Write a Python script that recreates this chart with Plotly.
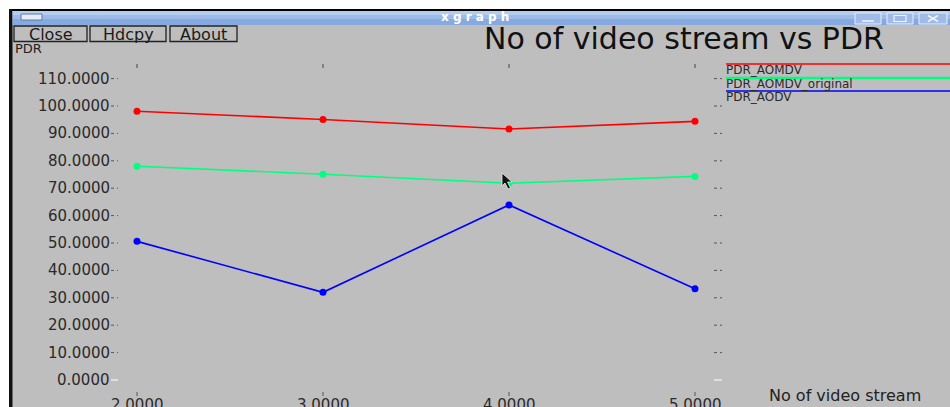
import plotly.graph_objects as go

# ---- data ----
x_streams = [2, 3, 4, 5]
pdr_aomdv = [98.1, 95.1, 91.6, 94.4]
pdr_aomdv_original = [78.0, 75.1, 71.8, 74.3]
pdr_aodv = [50.6, 32.0, 63.9, 33.3]

series_names = ["PDR_AOMDV", "PDR_AOMDV_original", "PDR_AODV"]
series_colors = ["#ff0000", "#00ff80", "#0000ff"]

y_ticks = [0, 10, 20, 30, 40, 50, 60, 70, 80, 90, 100, 110]
y_tick_labels = ["%.4f" % v for v in y_ticks]
x_ticks = [2, 3, 4, 5]
x_tick_labels = ["%.4f" % v for v in x_ticks]

title_text = "No of video stream vs PDR"
x_title = "No of video stream"
y_title = "PDR"
window_title = "xgraph"
buttons = ["Close", "Hdcpy", "About"]

W, H = 950, 407
BG = "#bebebe"
FONT = "DejaVu Sans"


def X(p):
    return p / W


def Y(p):
    return 1 - p / H


# axis ranges chosen so that the plot frame lines up with the screenshot
x_range = [2 - 137 / 186, 2 + (W - 137) / 186]
y_range = [(380 - H) / 2.74, 380 / 2.74]

fig = go.Figure()
for name, vals, col in zip(series_names,
                           [pdr_aomdv, pdr_aomdv_original, pdr_aodv],
                           series_colors):
    fig.add_trace(go.Scatter(
        x=x_streams, y=vals, mode="lines+markers", name=name,
        line=dict(color=col, width=1.6),
        marker=dict(color=col, size=7, symbol="circle"),
        hoverinfo="skip", showlegend=False))

shapes = []
annotations = []


def rect(x0, x1, y0, y1, fill, line=None, layer="below"):
    d = dict(type="rect", xref="paper", yref="paper", x0=X(x0), x1=X(x1), y0=Y(y0), y1=Y(y1),
             fillcolor=fill, layer=layer)
    if line is None:
        d["line_width"] = 0
    else:
        d["line"] = line
    shapes.append(d)


def seg(x0, y0, x1, y1, color, width=1):
    shapes.append(dict(type="line", xref="paper", yref="paper", x0=X(x0), x1=X(x1), y0=Y(y0), y1=Y(y1),
                       line=dict(color=color, width=width)))


# top white strip + black window border
rect(0, W, 0, 9, "white")
rect(0, 9, 0, H, "white")
rect(9, W, 9, 11, "black")
rect(9, 12.5, 9, H, "#111111")
# title bar gradient (bands)
rect(12.5, W, 11, 15, "#b3ccef")
rect(12.5, W, 15, 19, "#9dbbe8")
rect(12.5, W, 19, 25, "#86a9df")
# title bar icon
rect(21, 42, 14, 20, "#e6ecf6", line=dict(color="#5a7ab0", width=1), layer="above")
# window control buttons (drawn glyphs)
for bx0, bx1 in [(855, 881), (887, 913), (919, 947)]:
    rect(bx0, bx1, 13, 24, "#9fbbe6", line=dict(color="#e8eef8", width=1), layer="above")
seg(862, 21, 874, 21, "#f0f4fb", 1.5)
rect(894, 906, 15.5, 21.5, "rgba(0,0,0,0)", line=dict(color="#f0f4fb", width=1.2), layer="above")
seg(928, 15.5, 938, 21.5, "#f0f4fb", 1.5)
seg(928, 21.5, 938, 15.5, "#f0f4fb", 1.5)

annotations.append(dict(text="<b>x g r a p h</b>", xref="paper", yref="paper", x=X(475), y=Y(17.5),
                        showarrow=False, font=dict(family=FONT, size=12, color="white"),
                        xanchor="center", yanchor="middle", borderpad=0))

# buttons
bpos = [(14, 87), (90, 166), (170, 237)]
for label, (bx0, bx1) in zip(buttons, bpos):
    rect(bx0, bx1, 26, 41.5, BG, line=dict(color="#222222", width=1.3), layer="above")
    annotations.append(dict(text=label, xref="paper", yref="paper", x=X((bx0 + bx1) / 2), y=Y(34),
                            showarrow=False, font=dict(family=FONT, size=16, color="#1a1a1a"),
                            xanchor="center", yanchor="middle", borderpad=0))

# y title & chart title
annotations.append(dict(text=y_title, xref="paper", yref="paper", x=X(14), y=Y(48.5),
                        showarrow=False, font=dict(family=FONT, size=13, color="#222222"),
                        xanchor="left", yanchor="middle", borderpad=0))
annotations.append(dict(text=title_text, xref="paper", yref="paper", x=X(684), y=Y(39),
                        showarrow=False, font=dict(family=FONT, size=30, color="#111111"),
                        xanchor="center", yanchor="middle", borderpad=0))

# y tick labels and tick marks
for v, lab in zip(y_ticks, y_tick_labels):
    annotations.append(dict(text=lab, xref="paper", yref="y", x=X(111), y=v,
                            showarrow=False, font=dict(family=FONT, size=15, color="#2a2a2a"),
                            xanchor="right", yanchor="middle", borderpad=0))
    if v == 0:
        tick_style = dict(color="#f2f2f2", width=1.3)
    else:
        tick_style = dict(color="#555555", width=1, dash="dot")
    shapes.append(dict(type="line", xref="paper", yref="y", x0=X(111), x1=X(118), y0=v, y1=v,
                       line=tick_style))
    shapes.append(dict(type="line", xref="paper", yref="y", x0=X(714), x1=X(722), y0=v, y1=v,
                       line=tick_style))

# x tick labels and tick marks
for v, lab in zip(x_ticks, x_tick_labels):
    shapes.append(dict(type="line", xref="x", yref="paper", x0=v, x1=v, y0=Y(64), y1=Y(68),
                       line=dict(color="#444444", width=1)))
    shapes.append(dict(type="line", xref="x", yref="paper", x0=v, x1=v, y0=Y(392), y1=Y(396),
                       line=dict(color="#555555", width=1)))
    annotations.append(dict(text=lab, xref="x", yref="paper", x=v, y=Y(395),
                            showarrow=False, font=dict(family=FONT, size=15, color="#2a2a2a"),
                            xanchor="center", yanchor="top", borderpad=0))

annotations.append(dict(text=x_title, xref="paper", yref="paper", x=X(768), y=Y(395),
                        showarrow=False, font=dict(family=FONT, size=16, color="#222222"),
                        xanchor="left", yanchor="middle", borderpad=0))

# legend (xgraph style: coloured line above each name)
leg_y = [64, 78, 91]
for name, col, ly in zip(series_names, series_colors, leg_y):
    shapes.append(dict(type="line", xref="paper", yref="paper", x0=X(726), x1=1, y0=Y(ly), y1=Y(ly),
                       line=dict(color=col, width=1.6 if col != "#00ff80" else 2.4)))
    annotations.append(dict(text=name, xref="paper", yref="paper", x=X(725), y=Y(ly + 6),
                            showarrow=False, font=dict(family=FONT, size=12, color="#2a2a2a"),
                            xanchor="left", yanchor="middle", borderpad=0))

# mouse pointer
shapes.append(dict(type="path", xref="paper", yref="paper",
                   path="M {0} {1} L {0} {2} L {3} {4} L {5} {6} L {7} {8} L {9} {10} L {11} {12} Z".format(
                       X(502), Y(173), Y(186), X(505), Y(183), X(508), Y(189), X(510.5), Y(188),
                       X(507.5), Y(182), X(512), Y(182)),
                   fillcolor="#111111", line=dict(color="#eeeeee", width=0.8)))

fig.update_layout(
    width=W, height=H,
    margin=dict(l=0, r=0, t=0, b=0, autoexpand=False),
    paper_bgcolor=BG, plot_bgcolor=BG,
    xaxis=dict(range=x_range, visible=False, domain=[0, 1], fixedrange=True),
    yaxis=dict(range=y_range, visible=False, domain=[0, 1], fixedrange=True),
    shapes=shapes, annotations=annotations,
    showlegend=False, hovermode=False,
)

fig.write_html("out.html", config={"displayModeBar": False},
               post_script="document.body.style.margin='0px';document.body.style.overflow='hidden';")
